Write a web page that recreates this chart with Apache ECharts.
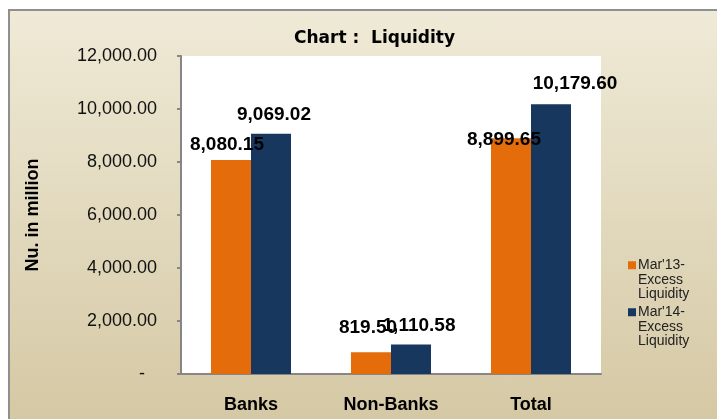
<!DOCTYPE html>
<html>
<head>
<meta charset="utf-8">
<script src="https://cdn.jsdelivr.net/npm/echarts@6/dist/echarts.min.js"></script>
<style>
  html, body { margin: 0; padding: 0; background: #fff; }
  #box {
    position: absolute; left: 8px; top: 9px; width: 709px; height: 410px;
    border-left: 2px solid #8f8f8f; border-top: 2px solid #8f8f8f;
    background: linear-gradient(#efead7, #d5c8a4);
  }
  #main { width: 707px; height: 408px; }
</style>
</head>
<body>
<div id="box"><div id="main"></div></div>
<script>
// chart data
var categories = ['Banks', 'Non-Banks', 'Total'];
var seriesNames = ["Mar'13-Excess Liquidity", "Mar'14-Excess Liquidity"];
var mar13 = [8080.15, 819.50, 8899.65];
var mar14 = [9069.02, 1110.58, 10179.60];
var yTicks = [0, 2000, 4000, 6000, 8000, 10000, 12000];

function fmt(v) {
    return v.toLocaleString('en-US', {minimumFractionDigits: 2, maximumFractionDigits: 2});
}

// label nudges to mimic where excel put them
var shift13 = [[-4, -6], [-3, -15], [-7, 11]];
var shift14 = [[3, -9], [8, -9], [24, -11]];

var myChart = echarts.init(document.getElementById('main'));
var labelFont = {fontFamily: 'Liberation Sans', fontWeight: 'bold', fontSize: 19, color: '#000'};

function legendText(name) {
    // pad with 2 blank lines so the icon sits beside the first line
    return '\n\n' + name.replace('-', '-\n').replace(' ', '\n');
}

myChart.setOption({
    animation: false,
    title: {
        text: 'Chart :  Liquidity',
        left: 279, top: 14,
        textStyle: {fontFamily: 'DejaVu Sans', fontWeight: 'bold', fontSize: 17, color: '#000'}
    },
    legend: [0, 1].map(function (i) {
        return {
            data: [seriesNames[i]],
            orient: 'vertical',
            left: 613,
            top: i === 0 ? 213 : 260,
            itemWidth: 8, itemHeight: 8,
            icon: 'rect',
            formatter: legendText,
            textStyle: {fontFamily: 'Liberation Sans', fontSize: 14, lineHeight: 14.5, color: '#222', padding: [0, 0, 0, -3]}
        };
    }),
    grid: {left: 171, top: 45, width: 420, height: 318},
    xAxis: {
        type: 'category',
        data: categories,
        axisLine: {lineStyle: {color: '#868686', width: 2}},
        axisTick: {length: 5, lineStyle: {color: '#868686', width: 2}},
        axisLabel: {margin: 22, fontFamily: 'Liberation Sans', fontWeight: 'bold', fontSize: 18, color: '#000'}
    },
    yAxis: {
        type: 'value',
        min: yTicks[0], max: yTicks[yTicks.length - 1], interval: yTicks[1] - yTicks[0],
        name: 'Nu. in million',
        nameLocation: 'middle',
        nameGap: 139,
        nameRotate: 90,
        nameTextStyle: {fontFamily: 'Liberation Sans', fontWeight: 'bold', fontSize: 18, color: '#000'},
        axisLine: {show: true, lineStyle: {color: '#868686', width: 2}},
        axisTick: {show: true, length: 4, lineStyle: {color: '#868686', width: 2}},
        splitLine: {show: false},
        axisLabel: {
            margin: 24,
            fontFamily: 'Liberation Sans', fontSize: 18, color: '#111',
            formatter: function (v) { return v === 0 ? '{d|-}' : fmt(v); },
            rich: {d: {fontFamily: 'Liberation Sans', fontSize: 18, color: '#111', padding: [0, 12, 0, 0]}}
        }
    },
    series: [
        {
            name: seriesNames[0], type: 'bar', barWidth: 40, barGap: 0,
            itemStyle: {color: '#E46C0A'},
            data: mar13.map(function (v, i) {
                return {value: v, label: {offset: shift13[i]}};
            }),
            label: Object.assign({show: true, position: 'top', distance: 0, formatter: function (p) { return fmt(p.value); }}, labelFont)
        },
        {
            name: seriesNames[1], type: 'bar', barWidth: 40,
            itemStyle: {color: '#17375E'},
            data: mar14.map(function (v, i) {
                return {value: v, label: {offset: shift14[i]}};
            }),
            label: Object.assign({show: true, position: 'top', distance: 0, formatter: function (p) { return fmt(p.value); }}, labelFont)
        }
    ],
    graphic: [{
        type: 'rect', silent: true, z: -1,
        shape: {x: 171, y: 45, width: 420, height: 318},
        style: {fill: '#fff'}
    }]
});
</script>
</body>
</html>
